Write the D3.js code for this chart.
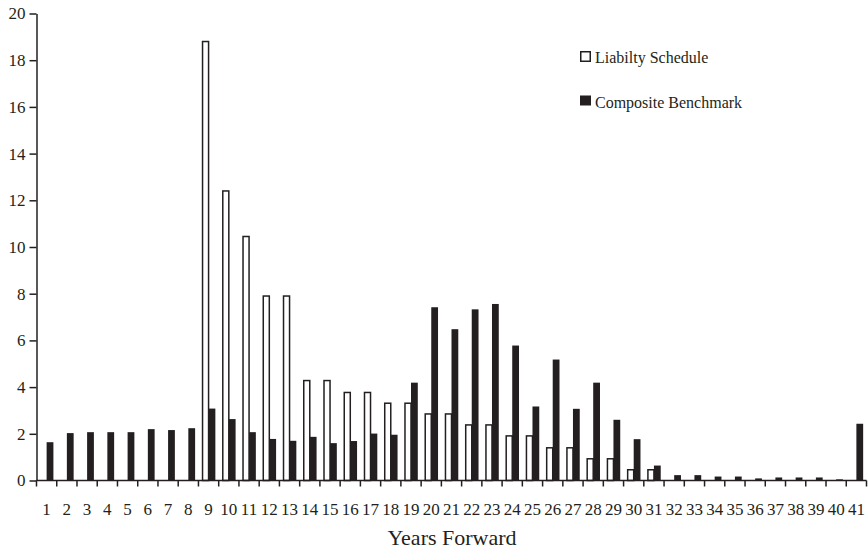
<!DOCTYPE html>
<html>
<head>
<meta charset="utf-8">
<script src="https://cdn.jsdelivr.net/npm/d3@7"></script>
<style>
  html, body { margin: 0; padding: 0; background: #fff; }
  svg { display: block; }
  text { font-family: "Liberation Serif", "Times New Roman", serif; fill: #231f20; }
</style>
</head>
<body>
<svg id="chart" width="868" height="550"></svg>
<script>
// Years forward (categories)
const years = d3.range(1, 42).map(String);

// Liability schedule, % of total by year
const liability = [
  0, 0, 0, 0, 0, 0, 0, 0, 18.8, 12.4,
  10.45, 7.9, 7.9, 4.28, 4.28, 3.77, 3.77, 3.31, 3.31, 2.85,
  2.85, 2.38, 2.38, 1.91, 1.91, 1.40, 1.40, 0.93, 0.93, 0.46,
  0.46, 0, 0, 0, 0, 0, 0, 0, 0, 0,
  0
];

// Composite benchmark, % of total by year
const composite = [
  1.64, 2.03, 2.07, 2.07, 2.07, 2.2, 2.16, 2.24, 3.08, 2.63,
  2.07, 1.78, 1.70, 1.87, 1.60, 1.69, 2.01, 1.96, 4.19, 7.42,
  6.48, 7.33, 7.56, 5.78, 3.17, 5.18, 3.07, 4.19, 2.60, 1.77,
  0.64, 0.23, 0.23, 0.17, 0.17, 0.09, 0.13, 0.13, 0.13, 0.05,
  2.43
];

const seriesNames = ["Liabilty Schedule", "Composite Benchmark"];
const yTicks = [0, 2, 4, 6, 8, 10, 12, 14, 16, 18, 20];
const xTitle = "Years Forward";

const ink = "#231f20";
const svg = d3.select("#chart");

const plotLeft = 36.5, plotRight = 866.5, plotTop = 13.5, plotBottom = 480.5;

const x = d3.scaleBand().domain(years).range([plotLeft, plotRight]).padding(0);
const step = x.step();
const xs = d3.scaleBand().domain(seriesNames)
  .range([step * 0.165, step * 0.835]).padding(0);
const y = d3.scaleLinear().domain([0, 20]).range([plotBottom, plotTop]);

const rows = years.map((yr, i) => ({ year: yr, values: [liability[i], composite[i]] }));

// Bars
const groups = svg.append("g").selectAll("g")
  .data(rows).join("g")
  .attr("transform", d => `translate(${x(d.year)},0)`);

groups.selectAll("rect")
  .data(d => d.values.map((v, k) => ({ key: seriesNames[k], v, k })).filter(e => e.v > 0))
  .join("rect")
  .attr("x", d => d.k === 0 ? xs(d.key) + 0.75 : xs(d.key))
  .attr("width", d => d.k === 0 ? xs.bandwidth() - 0.75 : xs.bandwidth())
  .attr("y", d => y(d.v))
  .attr("height", d => plotBottom - y(d.v))
  .attr("fill", d => d.k === 0 ? "#fff" : ink)
  .attr("stroke", d => d.k === 0 ? ink : "none")
  .attr("stroke-width", 1.5);

// Y axis
const yAxis = svg.append("g")
  .attr("transform", `translate(${plotLeft},0)`)
  .call(d3.axisLeft(y).tickValues(yTicks).tickSize(7).tickPadding(4).tickSizeOuter(0));
yAxis.select(".domain").attr("stroke", ink).attr("stroke-width", 1.5);
yAxis.selectAll(".tick line").attr("stroke", ink).attr("stroke-width", 1.5);
yAxis.selectAll(".tick text").attr("font-size", 17).attr("fill", ink)
  .attr("font-family", "Liberation Serif, serif");

// X axis: ticks on category boundaries, labels at centers
const xAxisG = svg.append("g").attr("transform", `translate(0,${plotBottom})`);
xAxisG.append("line")
  .attr("x1", plotLeft).attr("x2", plotRight)
  .attr("stroke", ink).attr("stroke-width", 1.5);
const boundaries = years.map(d => x(d)).concat([plotRight]);
xAxisG.selectAll("line.tk").data(boundaries).join("line")
  .attr("class", "tk")
  .attr("x1", d => d).attr("x2", d => d)
  .attr("y1", 0).attr("y2", 6)
  .attr("stroke", ink).attr("stroke-width", 1.5);
xAxisG.selectAll("text").data(years).join("text")
  .attr("x", d => x(d) + step / 2)
  .attr("y", 34.5)
  .attr("text-anchor", "middle")
  .attr("font-size", 17)
  .text(d => d);

// Axis title
svg.append("text")
  .attr("x", 452).attr("y", 545)
  .attr("text-anchor", "middle")
  .attr("font-size", 22)
  .text(xTitle);

// Legend
const legend = svg.append("g").selectAll("g")
  .data(seriesNames).join("g")
  .attr("transform", (d, i) => `translate(580,${51 + i * 44.5})`);
legend.append("rect")
  .attr("x", (d, i) => i === 0 ? 0.75 : 0)
  .attr("y", (d, i) => i === 0 ? 0.75 : 0)
  .attr("width", (d, i) => i === 0 ? 9.5 : 11)
  .attr("height", (d, i) => i === 0 ? 9.5 : 10)
  .attr("fill", (d, i) => i === 0 ? "#fff" : ink)
  .attr("stroke", (d, i) => i === 0 ? ink : "none")
  .attr("stroke-width", 1.5);
legend.append("text")
  .attr("x", 15).attr("y", 12)
  .attr("font-size", 16)
  .text(d => d);
</script>
</body>
</html>
